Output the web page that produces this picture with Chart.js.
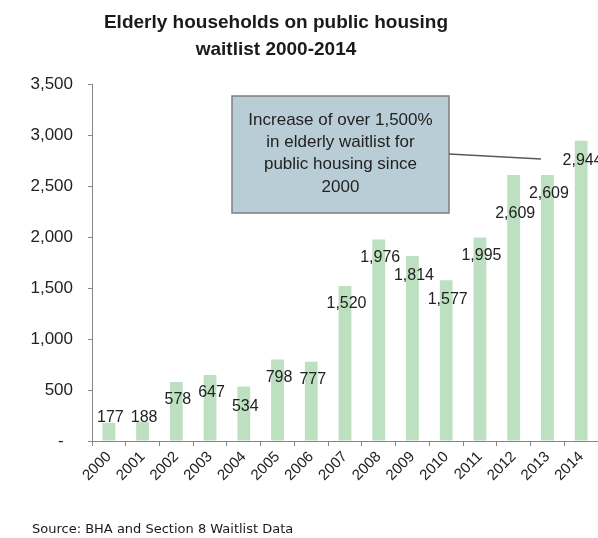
<!DOCTYPE html>
<html>
<head>
<meta charset="utf-8">
<title>Elderly households on public housing waitlist 2000-2014</title>
<script src="https://cdn.jsdelivr.net/npm/chart.js@4/dist/chart.umd.min.js"></script>
<style>
  html, body { margin: 0; padding: 0; background: #ffffff; }
  canvas { display: block; }
</style>
</head>
<body>
<canvas id="waitlist" width="598" height="538"></canvas>
<script>
const YEARS = ['2000', '2001', '2002', '2003', '2004', '2005', '2006', '2007',
  '2008', '2009', '2010', '2011', '2012', '2013', '2014'];
const HOUSEHOLDS = [177, 188, 578, 647, 534, 798, 777, 1520, 1976, 1814, 1577, 1995, 2609, 2609, 2944];
const Y_TICKS = [0, 500, 1000, 1500, 2000, 2500, 3000, 3500];

const TITLE_LINES = ['Elderly households on public housing', 'waitlist 2000-2014'];
const CALLOUT_LINES = ['Increase of over 1,500%', 'in elderly waitlist for', 'public housing since', '2000'];
const SOURCE_TEXT = 'Source: BHA and Section 8 Waitlist Data';

// vertical shift of each value label from its bar top (px), as placed in the original
const LABEL_SHIFT = [-5, -4, 18, 18, 20, 18, 18, 18, 18, 20, 19, 18, 39, 19, 20];

const FONT = '"Liberation Sans", Arial, sans-serif';
const AXIS_COLOR = '#868686';
const TEXT_COLOR = '#222222';

const formatNumber = (value) => value.toLocaleString('en-US');

const annotations = {
  id: 'annotations',
  afterDraw(chart) {
    const { ctx } = chart;
    const bars = chart.getDatasetMeta(0).data;

    ctx.save();
    ctx.textAlign = 'center';
    ctx.textBaseline = 'middle';
    ctx.fillStyle = TEXT_COLOR;

    // value labels
    ctx.font = `16px ${FONT}`;
    bars.forEach((bar, i) => {
      ctx.fillText(formatNumber(HOUSEHOLDS[i]), bar.x + 1.5, bar.y + LABEL_SHIFT[i]);
    });

    // title
    ctx.font = `bold 19px ${FONT}`;
    ctx.fillStyle = '#1a1a1a';
    TITLE_LINES.forEach((line, i) => ctx.fillText(line, 276, 23 + i * 27));

    // callout
    ctx.fillStyle = '#b8cdd6';
    ctx.strokeStyle = '#7f7f7f';
    ctx.lineWidth = 1.5;
    ctx.fillRect(232, 96, 217, 117);
    ctx.strokeRect(232, 96, 217, 117);

    ctx.beginPath();
    ctx.strokeStyle = '#595959';
    ctx.moveTo(449, 154);
    ctx.lineTo(541, 159);
    ctx.stroke();

    ctx.fillStyle = TEXT_COLOR;
    ctx.font = `17px ${FONT}`;
    CALLOUT_LINES.forEach((line, i) => ctx.fillText(line, 340.5, 120 + i * 22.3));

    // source
    ctx.textAlign = 'left';
    ctx.font = '13px "DejaVu Sans", sans-serif';
    ctx.fillStyle = '#1a1a1a';
    ctx.fillText(SOURCE_TEXT, 32, 530);

    ctx.restore();
  },
};

new Chart(document.getElementById('waitlist'), {
  type: 'bar',
  plugins: [annotations],
  data: {
    labels: YEARS,
    datasets: [{
      data: HOUSEHOLDS,
      backgroundColor: '#bde0c1',
      borderWidth: 0,
      categoryPercentage: 1,
      barPercentage: 0.38,
    }],
  },
  options: {
    responsive: false,
    animation: false,
    layout: {
      padding: { top: 84, right: 0, bottom: 0, left: 0 },
    },
    plugins: {
      legend: { display: false },
      tooltip: { enabled: false },
      title: { display: false },
    },
    scales: {
      x: {
        afterFit: (scale) => { scale.height = 97; },
        border: { color: AXIS_COLOR, width: 1 },
        grid: {
          offset: true,
          drawOnChartArea: false,
          drawTicks: true,
          tickLength: 5,
          color: AXIS_COLOR,
        },
        ticks: {
          minRotation: 45,
          maxRotation: 45,
          padding: 2,
          color: TEXT_COLOR,
          font: { family: FONT, size: 15 },
        },
      },
      y: {
        min: Y_TICKS[0],
        max: Y_TICKS[Y_TICKS.length - 1],
        afterFit: (scale) => { scale.width = 92; },
        afterBuildTicks: (scale) => {
          scale.ticks = Y_TICKS.map((value) => ({ value }));
        },
        border: { color: AXIS_COLOR, width: 1 },
        grid: {
          drawOnChartArea: false,
          drawTicks: true,
          tickLength: 4,
          color: AXIS_COLOR,
        },
        ticks: {
          padding: 15,
          color: TEXT_COLOR,
          font: { family: FONT, size: 17 },
          callback: (value) => (value === 0 ? '-  ' : formatNumber(value)),
        },
      },
    },
  },
});
</script>
</body>
</html>
